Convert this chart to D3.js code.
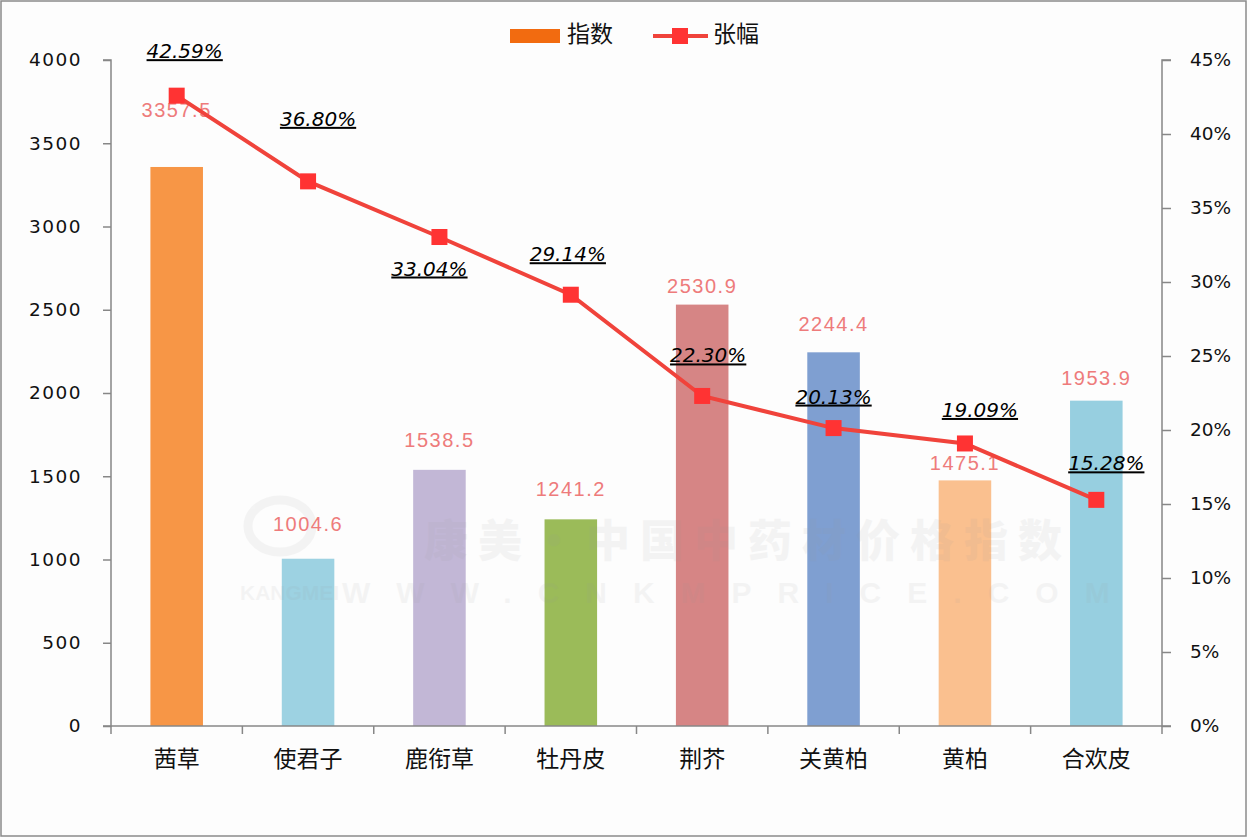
<!DOCTYPE html>
<html><head><meta charset="utf-8">
<script src="https://cdn.jsdelivr.net/npm/d3@7"></script>
<style>
html,body{margin:0;padding:0;background:#fff;}
svg{display:block;}
</style></head>
<body>
<svg id="chart" width="1250" height="840"></svg>
<script>
// ---- data ----
const categories = ["茜草","使君子","鹿衔草","牡丹皮","荆芥","关黄柏","黄柏","合欢皮"];
const indexValues = [3357.5, 1004.6, 1538.5, 1241.2, 2530.9, 2244.4, 1475.1, 1953.9];
const changeValues = [42.59, 36.80, 33.04, 29.14, 22.30, 20.13, 19.09, 15.28];
const leftTicks = [0, 500, 1000, 1500, 2000, 2500, 3000, 3500, 4000];
const rightTicks = [0, 5, 10, 15, 20, 25, 30, 35, 40, 45];
const seriesNames = ["指数", "张幅"];

// ---- styling / layout (not data) ----
const barColors = ["#F79646","#9DD2E2","#C2B7D6","#9BBB59","#D68585","#7F9FD1","#FAC08F","#97CFE0"];
const valueLabelDy = [-55, -33, -28, -29, -17, -27, -16, -21];
const pctLabelDx = [8, 10, -10, -3, 6, 0, 15, 10];
const pctLabelDy = [-43, -61, 33, -39, -39, -30, -32, -35];

const svg = d3.select("#chart");
const W = 1250, H = 840;
const m = {left: 111, right: 1162, top: 60, bottom: 726};

svg.append("rect").attr("x",0).attr("y",0).attr("width",W).attr("height",H).attr("fill","#fdfdfd");
svg.append("rect").attr("x",1).attr("y",1).attr("width",1245).attr("height",835)
  .attr("fill","none").attr("stroke","#8a8a8a").attr("stroke-width",1.5);

const x = d3.scaleBand().domain(categories).range([m.left, m.right]).paddingInner(0.6).paddingOuter(0.3);
const xo = d3.scaleBand().domain(categories).range([m.left, m.right]);
const yL = d3.scaleLinear().domain([0, 4000]).range([m.bottom, m.top]);
const yR = d3.scaleLinear().domain([0, 45]).range([m.bottom, m.top]);

// bars
svg.append("g").selectAll("rect").data(indexValues).join("rect")
  .attr("x",(d,i)=>x(categories[i])).attr("width",x.bandwidth())
  .attr("y",d=>yL(d)).attr("height",d=>yL(0)-yL(d))
  .attr("fill",(d,i)=>barColors[i]);

// watermark (faint, over bars)
const wm = svg.append("g").attr("fill","#9a9a9a").attr("opacity",0.09);
wm.append("text").attr("x",748).attr("y",557).attr("text-anchor","middle")
  .attr("font-family","Noto Sans CJK SC").attr("font-weight",900).attr("font-size",44)
  .attr("letter-spacing",10).text("康美·中国中药材价格指数");
wm.append("text").attr("x",240).attr("y",600)
  .attr("font-family","Liberation Sans").attr("font-weight",700).attr("font-size",21).text("KANGMEI");
wm.append("text").attr("x",342).attr("y",603)
  .attr("font-family","Liberation Sans").attr("font-weight",700).attr("font-size",30)
  .attr("letter-spacing",26).text("WWW.CNKMPRICE.COM");
wm.append("ellipse").attr("cx",280).attr("cy",526).attr("rx",32).attr("ry",26)
  .attr("fill","none").attr("stroke","#9a9a9a").attr("stroke-width",9);

// axes
const axisColor = "#878787";
const gL = svg.append("g").attr("transform",`translate(${m.left},0)`)
  .call(d3.axisLeft(yL).tickValues(leftTicks).tickSize(8).tickPadding(21).tickFormat(d3.format("d")));
const gR = svg.append("g").attr("transform",`translate(${m.right},0)`)
  .call(d3.axisRight(yR).tickValues(rightTicks).tickSize(9).tickPadding(19).tickFormat(d=>d+"%"));
const gX = svg.append("g").attr("transform",`translate(0,${m.bottom})`)
  .call(d3.axisBottom(xo).tickSize(0).tickPadding(20));
[gL,gR,gX].forEach(g=>{
  g.select(".domain").attr("stroke",axisColor).attr("stroke-width",1.5);
  g.selectAll(".tick line").attr("stroke",axisColor).attr("stroke-width",1.5);
});
gL.select(".domain").attr("d",`M-8,${m.top}H0V${m.bottom}H-8`);
gR.select(".domain").attr("d",`M9,${m.top}H0V${m.bottom}H9`);
gX.select(".domain").attr("d",`M${m.left},0H${m.right}`);
gL.selectAll(".tick text").attr("font-family","DejaVu Sans").attr("font-size",18.5).attr("letter-spacing",1.5).attr("fill","#111");
gR.selectAll(".tick text").attr("font-family","DejaVu Sans").attr("font-size",18.5).attr("fill","#111");
gX.selectAll(".tick text").attr("font-family","Noto Sans CJK SC").attr("font-size",23).attr("fill","#111").attr("dy","0.9em");
// category boundary ticks
gX.append("g").selectAll("line").data(d3.range(categories.length+1)).join("line")
  .attr("x1",i=>m.left + i*xo.step()).attr("x2",i=>m.left + i*xo.step())
  .attr("y1",0).attr("y2",8).attr("stroke",axisColor).attr("stroke-width",1.5);

// bar value labels
svg.append("g").selectAll("text").data(indexValues).join("text")
  .attr("x",(d,i)=>x(categories[i])+x.bandwidth()/2)
  .attr("y",(d,i)=>yL(d)+valueLabelDy[i])
  .attr("text-anchor","middle").attr("dominant-baseline","middle")
  .attr("font-family","Liberation Sans").attr("font-size",20).attr("letter-spacing",1.5)
  .attr("fill","#EE7B7B").text(d=>d.toFixed(1));

// line
const cx = (i)=>xo(categories[i])+xo.bandwidth()/2;
const line = d3.line().x((d,i)=>cx(i)).y(d=>yR(d));
svg.append("path").datum(changeValues).attr("d",line)
  .attr("fill","none").attr("stroke","#F0433B").attr("stroke-width",4);
svg.append("g").selectAll("rect").data(changeValues).join("rect")
  .attr("x",(d,i)=>cx(i)-8).attr("y",d=>yR(d)-8).attr("width",16).attr("height",16)
  .attr("fill","#FF3333");

// pct labels
svg.append("g").selectAll("text").data(changeValues).join("text")
  .attr("x",(d,i)=>cx(i)+pctLabelDx[i])
  .attr("y",(d,i)=>yR(d)+pctLabelDy[i])
  .attr("text-anchor","middle").attr("dominant-baseline","middle")
  .attr("font-family","DejaVu Sans").attr("font-style","italic").attr("font-size",20)
  .attr("text-decoration","underline").attr("fill","#000")
  .text(d=>d.toFixed(2)+"%");

// legend
const lg = svg.append("g");
lg.append("rect").attr("x",510).attr("y",29).attr("width",50).attr("height",14).attr("fill","#F26B10");
lg.append("text").attr("x",567).attr("y",36).attr("dominant-baseline","middle")
  .attr("font-family","Noto Sans CJK SC").attr("font-size",23).attr("fill","#111").text(seriesNames[0]);
lg.append("line").attr("x1",653).attr("x2",708).attr("y1",36).attr("y2",36)
  .attr("stroke","#F0433B").attr("stroke-width",4);
lg.append("rect").attr("x",672).attr("y",28).attr("width",16).attr("height",16).attr("fill","#FF3333");
lg.append("text").attr("x",713).attr("y",36).attr("dominant-baseline","middle")
  .attr("font-family","Noto Sans CJK SC").attr("font-size",23).attr("fill","#111").text(seriesNames[1]);
</script>
</body></html>
